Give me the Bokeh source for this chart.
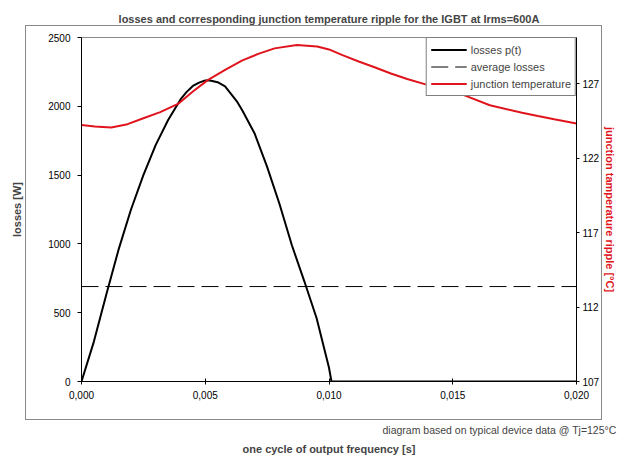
from bokeh.plotting import figure
from bokeh.models import (Range1d, LinearAxis, FixedTicker, CustomJSTickFormatter,
                          Legend, LegendItem, Title, InlineStyleSheet)
from bokeh.embed import file_html
from bokeh.resources import INLINE

# ---------------- data ----------------
title_text = "losses and corresponding junction temperature ripple for the IGBT at Irms=600A"
note_text = "diagram based on typical device data @ Tj=125°C"
x_label = "one cycle of output frequency [s]"
y_label = "losses [W]"
y2_label = "junction tamperature ripple [°C]"
legend_labels = ["losses p(t)", "average losses", "junction temperature"]

loss_t = [0.0, 0.0005, 0.0010, 0.0015, 0.0020, 0.0025, 0.0030, 0.0035, 0.0040,
          0.00425, 0.0045, 0.00475, 0.0050, 0.00515, 0.0055, 0.0058, 0.0060,
          0.0063, 0.0065, 0.0070, 0.0075, 0.0080, 0.0085, 0.0090, 0.0095,
          0.0100, 0.0101, 0.0150, 0.0200]
loss_w = [0, 290, 630, 960, 1250, 1500, 1720, 1900, 2050,
          2105, 2148, 2172, 2188, 2190, 2175, 2145, 2100,
          2030, 1970, 1800, 1560, 1290, 990, 730, 460,
          100, 0, 0, 0]
average_losses = 690

tj_t = [0.0, 0.00054, 0.0012, 0.00186, 0.0025, 0.00318, 0.0039, 0.0045, 0.0051,
        0.00582, 0.0065, 0.00714, 0.0078, 0.0087, 0.00952, 0.0100, 0.01052,
        0.0112, 0.01184, 0.0125, 0.01316, 0.0139, 0.0154, 0.0165, 0.0178,
        0.01844, 0.0191, 0.0200]
tj_c = [124.22, 124.13, 124.06, 124.28, 124.68, 125.09, 125.64, 126.47, 127.24,
        127.94, 128.56, 129.0, 129.37, 129.59, 129.5, 129.3, 128.93,
        128.49, 128.1, 127.68, 127.31, 126.95, 126.26, 125.55, 125.05,
        124.83, 124.61, 124.32]

x_ticks = [0.0, 0.005, 0.010, 0.015, 0.020]
y_ticks = [0, 500, 1000, 1500, 2000, 2500]
y2_ticks = [107, 112, 117, 122, 127]
x_lim = (0.0, 0.020)
y_lim = (0, 2500)
y2_lim = (107, 130.1)

# ---------------- style ----------------
FONT = "Liberation Sans"
RED = "#e0141c"
GRAY = "#8a8a8a"

p = figure(width=619, height=456, output_backend="svg", toolbar_location=None,
           x_range=Range1d(*x_lim), y_range=Range1d(*y_lim),
           min_border_left=81, min_border_right=38, min_border_top=37,
           min_border_bottom=75)
p.background_fill_color = "white"
p.border_fill_color = "white"
p.outline_line_color = GRAY
p.outline_line_width = 1
p.grid.visible = False

p.extra_y_ranges = {"tj": Range1d(*y2_lim)}

# Excel-like outer chart-area frame, drawn with CSS around the plot area
p.stylesheets = [InlineStyleSheet(css=(
    ":host { position: relative; }"
    ":host::after { content: ''; position: absolute; left: 25px; top: 25px;"
    " width: 577px; height: 395px; border: 1.5px solid #8a8a8a;"
    " box-sizing: border-box; pointer-events: none; }"))]

# title
p.title.text = title_text
p.title.align = "center"
p.title.vertical_align = "top"
p.title.text_font = FONT
p.title.text_font_size = "11px"
p.title.text_font_style = "bold"
p.title.standoff = 21


def style_axis(ax):
    ax.axis_line_color = "black"
    ax.axis_line_width = 1
    ax.major_tick_line_color = "black"
    ax.minor_tick_line_color = None
    ax.major_label_text_font = FONT
    ax.major_label_text_font_size = "10px"
    ax.major_label_text_color = "black"
    ax.axis_label_text_font = FONT
    ax.axis_label_text_font_size = "11px"
    ax.axis_label_text_font_style = "bold"


xa = p.xaxis[0]
style_axis(xa)
xa.ticker = FixedTicker(ticks=x_ticks)
xa.formatter = CustomJSTickFormatter(code="return tick.toFixed(3).replace('.', ',');")
xa.major_tick_in = 3
xa.major_tick_out = 3
xa.major_label_standoff = 6

ya = p.yaxis[0]
style_axis(ya)
ya.ticker = FixedTicker(ticks=y_ticks)
ya.major_tick_in = 0
ya.major_tick_out = 4
ya.major_label_standoff = 7
ya.axis_label = y_label
ya.axis_label_standoff = 22

ya2 = LinearAxis(y_range_name="tj")
style_axis(ya2)
ya2.ticker = FixedTicker(ticks=y2_ticks)
ya2.major_tick_in = 0
ya2.major_tick_out = 3
ya2.major_label_standoff = 3
ya2.axis_label = y2_label
ya2.axis_label_text_color = RED
ya2.axis_label_standoff = 2
p.add_layout(ya2, "right")

# texts below
note = Title(text=note_text, align="right", vertical_align="bottom", text_font=FONT,
             text_font_size="10.5px", text_font_style="normal", offset=-40, standoff=40)
p.add_layout(note, "below")
xt = Title(text=x_label, align="center", vertical_align="top", text_font=FONT,
           text_font_size="11px", text_font_style="bold", standoff=-26)
p.add_layout(xt, "below")

# ---------------- data glyphs ----------------
r_loss = p.line(loss_t, loss_w, line_color="black", line_width=2)
r_avg = p.line([x_lim[0], x_lim[1]], [average_losses, average_losses],
               line_color="black", line_width=1, line_dash="17 7")
r_tj = p.line(tj_t, tj_c, line_color=RED, line_width=2, y_range_name="tj")

legend = Legend(items=[LegendItem(label=legend_labels[0], renderers=[r_loss]),
                       LegendItem(label=legend_labels[1], renderers=[r_avg]),
                       LegendItem(label=legend_labels[2], renderers=[r_tj])],
                location="top_right")
legend.label_text_font = FONT
legend.label_text_font_size = "11px"
legend.border_line_color = "black"
legend.border_line_width = 1
legend.background_fill_color = "white"
legend.background_fill_alpha = 1
legend.padding = 4
legend.spacing = 2
legend.margin = 0
legend.glyph_width = 36
legend.glyph_height = 15
legend.label_height = 15
legend.label_standoff = 4
p.add_layout(legend)

open("out.html", "w").write(file_html(p, INLINE))
